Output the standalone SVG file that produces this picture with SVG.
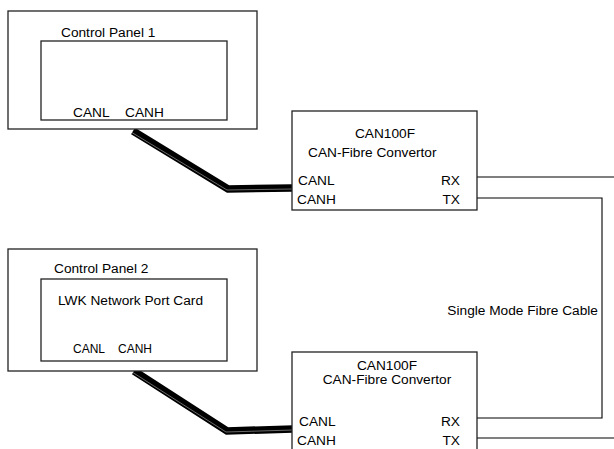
<svg xmlns="http://www.w3.org/2000/svg" width="614" height="449" viewBox="0 0 614 449">
<style>
.box{fill:#fff;stroke:#222;stroke-width:1.3}
.t{font-family:"Liberation Sans",Arial,sans-serif;font-size:13.7px;fill:#000}
.s{font-family:"Liberation Sans",Arial,sans-serif;font-size:12px;fill:#000}
.fibre{fill:none;stroke:#000;stroke-width:1.1}
.cable{fill:none;stroke:#000;stroke-width:7.5;stroke-linejoin:miter}
.inner{fill:none;stroke:#fff;stroke-width:0.6;opacity:0.7}
</style>
<rect width="614" height="449" fill="#fff"/>
<g id="connectors">
<polyline class="cable" points="133,131 228,189 292,188"/>
<polyline class="inner" points="131,132 227,190 292,189"/>
<polyline class="cable" points="134,371 227,431 293,429"/>
<polyline class="inner" points="132,372 226,432 293,430"/>
<polyline class="fibre" points="477,177 614,177"/>
<polyline class="fibre" points="477,198 602,198 602,418 477,418"/>
<polyline class="fibre" points="477,438 614,438"/>
<text class="t" x="598" y="315" text-anchor="end">Single Mode Fibre Cable</text>
</g>
<g id="control-panel-1">
<rect class="box" x="8" y="11" width="249" height="118"/>
<text class="t" x="61" y="37">Control Panel 1</text>
<rect class="box" x="41" y="41" width="186" height="79"/>
<text class="t" x="73" y="117">CANL</text>
<text class="t" x="125" y="117">CANH</text>
</g>
<g id="can100f-1">
<rect class="box" x="292" y="111" width="185" height="99"/>
<text class="t" x="385" y="138" text-anchor="middle">CAN100F</text>
<text class="t" x="308" y="157">CAN-Fibre Convertor</text>
<text class="t" x="298" y="185">CANL</text>
<text class="t" x="297" y="204">CANH</text>
<text class="t" x="460" y="185" text-anchor="end">RX</text>
<text class="t" x="460" y="204" text-anchor="end">TX</text>
</g>
<g id="control-panel-2">
<rect class="box" x="8" y="249" width="249" height="122"/>
<text class="t" x="54" y="273">Control Panel 2</text>
<rect class="box" x="41" y="279" width="186" height="82"/>
<text class="t" x="58" y="305">LWK Network Port Card</text>
<text class="s" x="73" y="353">CANL</text>
<text class="s" x="118" y="353">CANH</text>
</g>
<g id="can100f-2">
<rect class="box" x="292" y="352" width="185" height="100"/>
<text class="t" x="387" y="370" text-anchor="middle">CAN100F</text>
<text class="t" x="387" y="384" text-anchor="middle">CAN-Fibre Convertor</text>
<text class="t" x="299" y="426">CANL</text>
<text class="t" x="297" y="445">CANH</text>
<text class="t" x="460" y="426" text-anchor="end">RX</text>
<text class="t" x="460" y="445" text-anchor="end">TX</text>
</g>
</svg>
